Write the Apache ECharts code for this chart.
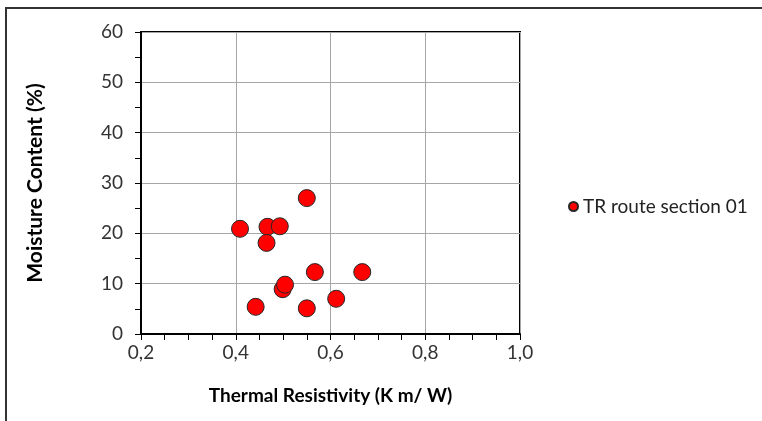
<!DOCTYPE html>
<html>
<head>
<meta charset="utf-8">
<script src="https://cdn.jsdelivr.net/npm/echarts@6/dist/echarts.min.js"></script>
<style>
  html, body { margin: 0; padding: 0; background: #fff; }
  #chart { width: 762px; height: 421px; }
</style>
</head>
<body>
<div id="chart"></div>
<script>
// Thermal resistivity (K m/W) vs moisture content (%) for route section 01
const seriesName = 'TR route section 01';
const thermalResistivity = [0.409, 0.467, 0.493, 0.465, 0.550, 0.567, 0.667, 0.499, 0.504, 0.442, 0.550, 0.612];
const moistureContent   = [20.9, 21.3, 21.4, 18.1, 27.0, 12.3, 12.3, 8.9, 9.8, 5.4, 5.1, 7.0];
const xTicks = [0.2, 0.4, 0.6, 0.8, 1.0];
const yTicks = [0, 10, 20, 30, 40, 50, 60];

const points = thermalResistivity.map((x, i) => [x, moistureContent[i]]);
const font = 'Lato, "Open Sans", sans-serif';

const chart = echarts.init(document.getElementById('chart'), null, { renderer: 'canvas' });
chart.setOption({
  animation: false,
  backgroundColor: '#ffffff',
  graphic: [{
    type: 'rect',
    shape: { x: 6, y: 8, width: 900, height: 600 },
    style: { fill: 'none', stroke: '#333333', lineWidth: 2 },
    silent: true
  }],
  grid: {
    left: 141, top: 32, width: 379, height: 302,
    show: true, borderColor: '#000', borderWidth: 2, backgroundColor: 'transparent'
  },
  legend: {
    data: [{ name: seriesName, icon: 'circle' }],
    left: 563, top: 192,
    itemWidth: 9, itemHeight: 9, itemGap: 2,
    textStyle: { fontFamily: font, fontSize: 19, color: '#222' }
  },
  xAxis: {
    type: 'value',
    min: xTicks[0], max: xTicks[xTicks.length - 1], interval: 0.2,
    name: 'Thermal Resistivity (K m/ W)',
    nameLocation: 'middle', nameGap: 52,
    nameTextStyle: { fontFamily: font, fontSize: 19, fontWeight: 'bold', color: '#000' },
    axisLine: { show: true, lineStyle: { color: '#000', width: 2 } },
    axisTick: { show: true, length: 6, lineStyle: { color: '#000', width: 1 } },
    minorTick: { show: true, splitNumber: 4, length: 6, lineStyle: { color: '#000', width: 1 } },
    splitLine: { show: true, lineStyle: { color: '#a6a6a6', width: 1 } },
    axisLabel: {
      fontFamily: font, fontSize: 19, color: '#333', margin: 9,
      formatter: v => v.toFixed(1).replace('.', ',')
    }
  },
  yAxis: {
    type: 'value',
    min: yTicks[0], max: yTicks[yTicks.length - 1], interval: 10,
    name: 'Moisture Content (%)',
    nameLocation: 'middle', nameGap: 95, nameRotate: 90,
    nameTextStyle: { fontFamily: font, fontSize: 21, fontWeight: 'bold', color: '#000' },
    axisLine: { show: true, lineStyle: { color: '#000', width: 2 } },
    axisTick: { show: true, length: 6, lineStyle: { color: '#000', width: 1 } },
    minorTick: { show: true, splitNumber: 2, length: 6, lineStyle: { color: '#000', width: 1 } },
    splitLine: { show: true, lineStyle: { color: '#a6a6a6', width: 1 } },
    axisLabel: {
      fontFamily: font, fontSize: 19, color: '#333', margin: 18,
      formatter: v => String(v)
    }
  },
  series: [{
    name: seriesName,
    type: 'scatter',
    data: points,
    symbol: 'circle',
    symbolSize: 17,
    itemStyle: { color: '#ff0000', borderColor: '#262626', borderWidth: 1, opacity: 1 }
  }]
});
</script>
</body>
</html>
